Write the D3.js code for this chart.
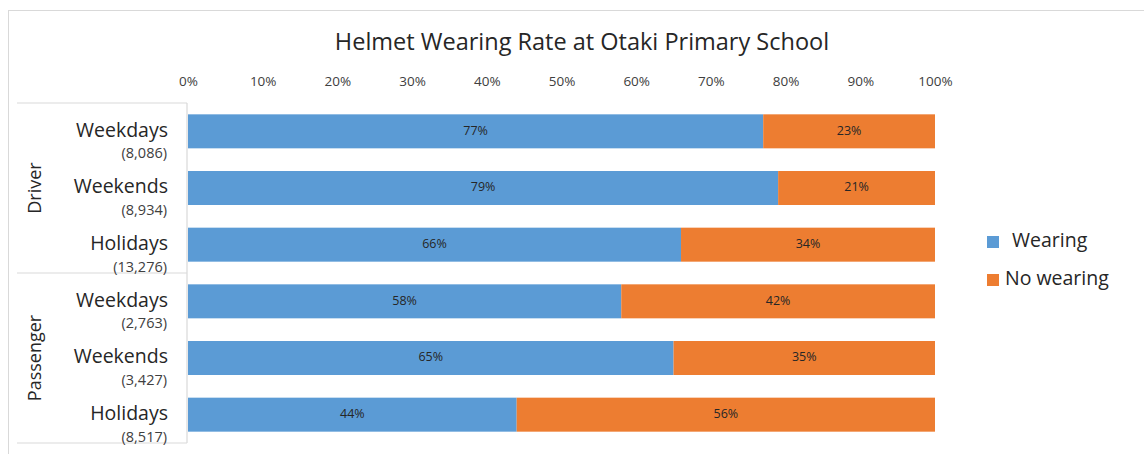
<!DOCTYPE html>
<html>
<head>
<meta charset="utf-8">
<script src="https://cdn.jsdelivr.net/npm/d3@7"></script>
<style>
  body { margin: 0; background: #fff; }
  svg { display: block; }
  text { font-family: "Open Sans", "Noto Sans", sans-serif; }
</style>
</head>
<body>
<svg id="chart" width="1144" height="454"></svg>
<script>
const title = "Helmet Wearing Rate at Otaki Primary School";
const groups = ["Driver", "Passenger"];
const categories = ["Weekdays", "Weekends", "Holidays", "Weekdays", "Weekends", "Holidays"];
const categoryGroup = ["Driver", "Driver", "Driver", "Passenger", "Passenger", "Passenger"];
const counts = ["(8,086)", "(8,934)", "(13,276)", "(2,763)", "(3,427)", "(8,517)"];
const wearing = [77, 79, 66, 58, 65, 44];
const noWearing = [23, 21, 34, 42, 35, 56];
const seriesNames = ["Wearing", "No wearing"];
const seriesColors = ["#5B9BD5", "#ED7D31"];
const tickValues = [0, 10, 20, 30, 40, 50, 60, 70, 80, 90, 100];

const svg = d3.select("#chart");
const rows = categories.map((c, i) => ({ id: i, name: c, group: categoryGroup[i], count: counts[i], w: wearing[i], n: noWearing[i] }));

// outer frame
svg.append("rect").attr("x", 8.5).attr("y", 10.5).attr("width", 1200).attr("height", 500)
  .attr("fill", "none").attr("stroke", "#d9d9d9");

svg.append("text").attr("x", 582).attr("y", 44).attr("text-anchor", "middle")
  .attr("dominant-baseline", "middle").attr("font-size", 23.5).attr("fill", "#262626").text(title);

const x = d3.scaleLinear().domain([0, 100]).range([188, 935]);
const y = d3.scaleBand().domain(rows.map(r => r.id)).range([103, 443]).paddingInner(0.4).paddingOuter(0.2);

// top axis
const axis = d3.axisTop(x).tickValues(tickValues).tickFormat(d => d + "%").tickSize(0).tickPadding(0);
const ax = svg.append("g").attr("transform", "translate(0,86)").call(axis);
ax.select(".domain").remove();
ax.selectAll("text").attr("font-size", 13.5).attr("fill", "#404040")
  .attr("font-family", "'Open Sans', sans-serif");

// left category frame
const frame = svg.append("g").attr("stroke", "#d9d9d9").attr("stroke-width", 1.2);
const yTop = y.range()[0], yBot = y.range()[1];
const yMid = (y(2) + y.bandwidth() + y(3)) / 2;
frame.append("line").attr("x1", 17).attr("x2", 187).attr("y1", yTop).attr("y2", yTop);
frame.append("line").attr("x1", 187).attr("x2", 187).attr("y1", yTop).attr("y2", yBot);
frame.append("line").attr("x1", 17).attr("x2", 187).attr("y1", yMid).attr("y2", yMid);
frame.append("line").attr("x1", 17).attr("x2", 187).attr("y1", yBot).attr("y2", yBot);

// group labels
groups.forEach(g => {
  const ids = rows.filter(r => r.group === g).map(r => r.id);
  const cy = (y(ids[0]) + y(ids[ids.length - 1]) + y.bandwidth()) / 2;
  svg.append("text").attr("transform", `translate(36,${cy}) rotate(-90)`)
    .attr("text-anchor", "middle").attr("dominant-baseline", "middle")
    .attr("font-size", 18).attr("fill", "#262626").text(g);
});

// category labels
const cl = svg.append("g");
rows.forEach(r => {
  const cy = y(r.id) + y.bandwidth() / 2;
  cl.append("text").attr("x", 168).attr("y", cy).attr("text-anchor", "end")
    .attr("dominant-baseline", "middle").attr("font-size", 19.5).attr("fill", "#262626").text(r.name);
  cl.append("text").attr("x", 167).attr("y", cy + 23).attr("text-anchor", "end")
    .attr("dominant-baseline", "middle").attr("font-size", 14.5).attr("fill", "#404040").text(r.count);
});

// bars
const bars = svg.append("g");
bars.selectAll("rect.w").data(rows).join("rect").attr("class", "w")
  .attr("x", x(0)).attr("y", d => y(d.id)).attr("width", d => x(d.w) - x(0)).attr("height", y.bandwidth())
  .attr("fill", seriesColors[0]);
bars.selectAll("rect.n").data(rows).join("rect").attr("class", "n")
  .attr("x", d => x(d.w)).attr("y", d => y(d.id)).attr("width", d => x(d.w + d.n) - x(d.w)).attr("height", y.bandwidth())
  .attr("fill", seriesColors[1]);

bars.selectAll("text.wl").data(rows).join("text").attr("class", "wl")
  .attr("x", d => x(d.w / 2)).attr("y", d => y(d.id) + y.bandwidth() / 2)
  .attr("text-anchor", "middle").attr("dominant-baseline", "middle")
  .attr("font-size", 12.5).attr("fill", "#262626").text(d => d.w + "%");
bars.selectAll("text.nl").data(rows).join("text").attr("class", "nl")
  .attr("x", d => x(d.w + d.n / 2)).attr("y", d => y(d.id) + y.bandwidth() / 2)
  .attr("text-anchor", "middle").attr("dominant-baseline", "middle")
  .attr("font-size", 12.5).attr("fill", "#262626").text(d => d.n + "%");

// legend
const legendY = [242, 280];
const legendTextX = [1012, 1005];
seriesNames.forEach((s, i) => {
  svg.append("rect").attr("x", 987).attr("y", legendY[i] - 6).attr("width", 12).attr("height", 12).attr("fill", seriesColors[i]);
  svg.append("text").attr("x", legendTextX[i]).attr("y", legendY[i]).attr("dominant-baseline", "middle")
    .attr("font-size", 19.5).attr("fill", "#262626").text(s);
});
</script>
</body>
</html>
